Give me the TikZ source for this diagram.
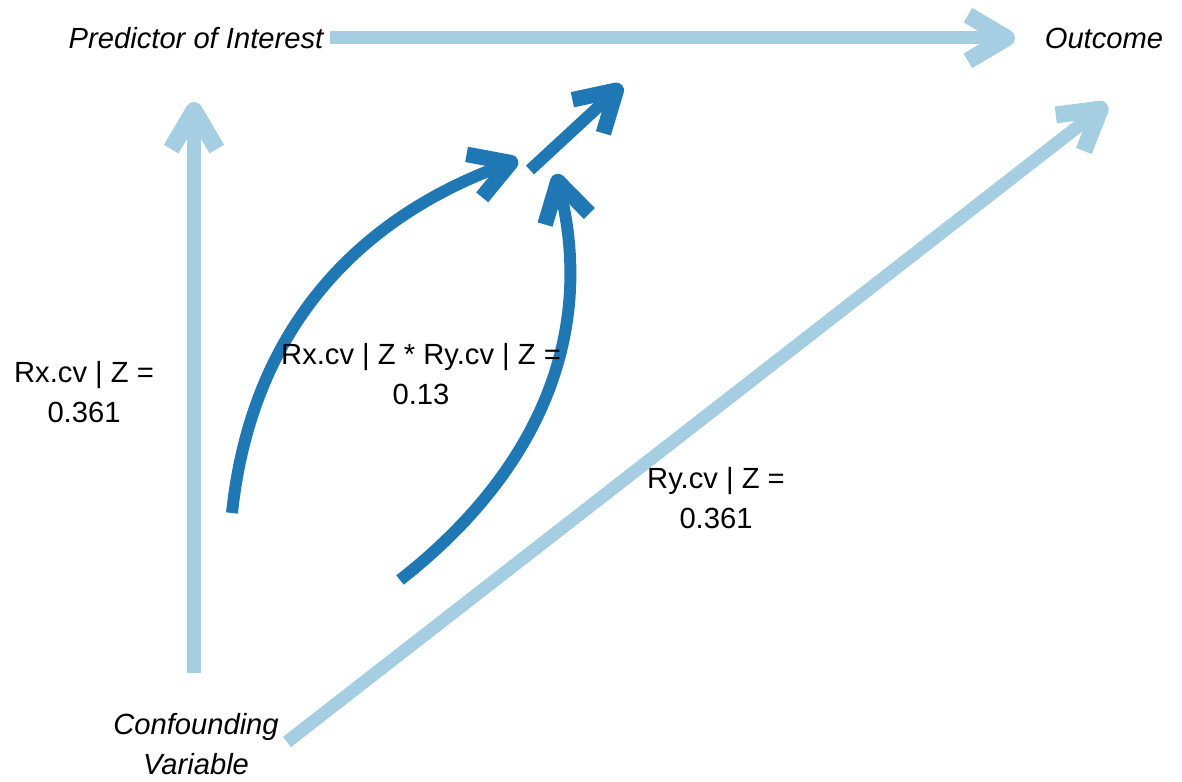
\documentclass[tikz,border=0pt]{standalone}
\usepackage{fontspec}
\setmainfont{Liberation Sans}
\usetikzlibrary{arrows.meta}

\definecolor{lightblue}{HTML}{A6CEE3}
\definecolor{darkblue}{HTML}{1F78B4}

\begin{document}
\begin{tikzpicture}[
  font=\fontsize{8.3}{11.4}\selectfont,
  var/.style={inner sep=0pt,align=center,font=\fontsize{8.3}{11.4}\selectfont\itshape},
  lbl/.style={inner sep=0pt,align=center},
  edgelt/.style={-{Straight Barb[length=11pt,width=13pt,line join=round,line width=0pt 1.3]},draw=lightblue,line width=3.7pt},
  edgedk/.style={-{Straight Barb[length=11pt,width=13pt,line join=round,line width=0pt 1.3]},draw=darkblue,line width=3.4pt}]
\useasboundingbox (0,0) rectangle (11.82,7.82);
\node[var] (X) at (1.96,7.44) {Predictor of Interest};
\node[var] (Y) at (11.04,7.44) {Outcome};
\node[var] (CV) at (1.96,0.38) {Confounding\\Variable};
% end points of the edges
\coordinate (xs) at (3.30,7.44);  \coordinate (xe) at (10.15,7.44);
\coordinate (cxs) at (1.94,1.09); \coordinate (cxe) at (1.94,6.80);
\coordinate (cys) at (2.87,0.40); \coordinate (cye) at (11.07,6.78);
\coordinate (k1s) at (2.32,2.69); \coordinate (k1e) at (5.18,6.22);
\coordinate (k2s) at (4.00,2.02); \coordinate (k2e) at (5.56,6.08);
\coordinate (kms) at (5.30,6.12); \coordinate (kme) at (6.22,6.97);
\draw[edgelt] (xs) -- (xe);
\draw[edgelt] (cxs) -- (cxe);
\draw[edgelt] (cys) -- (cye);
\draw[edgedk] (k1s) to[out=84,in=200] (k1e);
\draw[edgedk] (k2s) to[out=38,in=-76] (k2e);
\draw[edgedk] (kms) -- (kme);
% labels on top
\node[lbl] (rx) at (0.84,3.90) {Rx.cv | Z =\\0.361};
\node[lbl] (ry) at (7.16,2.84) {Ry.cv | Z =\\0.361};
\node[lbl] (rxy) at (4.21,4.08) {Rx.cv | Z * Ry.cv | Z =\\0.13};
\end{tikzpicture}
\end{document}
